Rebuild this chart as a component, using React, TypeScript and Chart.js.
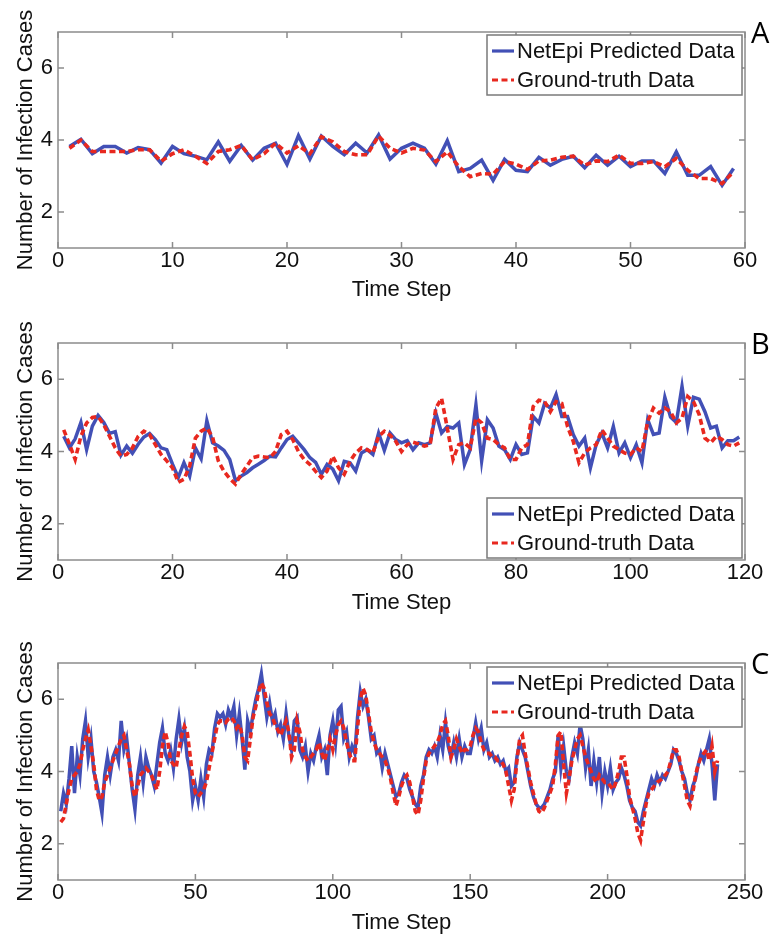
import React, { useEffect, useRef } from "react";
import { Chart, registerables } from "chart.js";
Chart.register(...registerables);

const SERIES_LABELS = ["NetEpi Predicted Data", "Ground-truth Data"];
const X_TITLE = "Time Step";
const Y_TITLE = "Number of Infection Cases";
const Y_TICKS = [2, 4, 6];
const PANEL_LETTERS = ["A", "B", "C"];

const A_PRED = [
  3.82, 4.02, 3.62, 3.82, 3.82, 3.64, 3.79, 3.73, 3.36, 3.82,
  3.62, 3.55, 3.45, 3.95, 3.41, 3.85, 3.44, 3.77, 3.91, 3.32,
  4.12, 3.47, 4.11, 3.82, 3.59, 3.91, 3.64, 4.14, 3.47, 3.77,
  3.91, 3.77, 3.33, 3.98, 3.12, 3.21, 3.44, 2.88, 3.46, 3.16,
  3.12, 3.52, 3.30, 3.46, 3.55, 3.23, 3.58, 3.30, 3.55, 3.26,
  3.42, 3.42, 3.07, 3.67, 3.02, 3.02, 3.26, 2.74, 3.21,
];
const A_TRUE = [
  3.77, 4.00, 3.68, 3.68, 3.68, 3.68, 3.73, 3.73, 3.41, 3.62,
  3.73, 3.55, 3.35, 3.68, 3.73, 3.85, 3.45, 3.62, 3.91, 3.64,
  3.84, 3.62, 4.09, 3.95, 3.68, 3.59, 3.59, 4.11, 3.77, 3.64,
  3.77, 3.72, 3.40, 3.67, 3.26, 2.98, 3.07, 3.05, 3.40, 3.33,
  3.18, 3.42, 3.44, 3.52, 3.55, 3.30, 3.42, 3.40, 3.58, 3.35,
  3.35, 3.40, 3.26, 3.49, 3.16, 2.93, 2.93, 2.79, 3.12,
];

const B_PRED = [
  4.42, 4.10, 4.35, 4.80, 4.05, 4.70, 5.00, 4.80, 4.50, 4.55,
  3.90, 4.15, 3.95, 4.20, 4.40, 4.50, 4.33, 4.10, 4.05, 3.65,
  3.28, 3.69, 3.32, 4.10, 3.80, 4.85, 4.24, 4.15, 4.03, 3.78,
  3.19, 3.32, 3.42, 3.55, 3.65, 3.75, 3.87, 3.85, 4.10, 4.33,
  4.42, 4.24, 4.05, 3.83, 3.70, 3.37, 3.64, 3.51, 3.19, 3.73,
  3.69, 3.46, 3.96, 4.05, 3.92, 4.51, 4.03, 4.51, 4.33, 4.24,
  4.30, 4.05, 4.24, 4.19, 4.24, 5.06, 4.51, 4.69, 4.65, 4.79,
  3.64, 4.05, 5.29, 3.74, 4.88, 4.65, 4.15, 4.05, 3.78, 4.19,
  3.92, 3.96, 4.97, 4.79, 5.33, 5.20, 5.58, 4.97, 4.97, 4.47,
  4.15, 4.37, 3.55, 4.19, 4.51, 4.10, 4.69, 3.96, 4.24, 3.83,
  4.19, 3.69, 4.88, 4.47, 4.51, 5.50, 4.95, 4.80, 5.80, 4.70,
  5.50, 5.45, 5.10, 4.65, 4.70, 4.10, 4.30, 4.30, 4.40,
];
const B_TRUE = [
  4.60, 4.20, 3.78, 4.42, 4.79, 4.94, 4.97, 4.74, 4.42, 4.10,
  3.87, 3.92, 4.10, 4.42, 4.56, 4.47, 4.19, 3.92, 3.74, 3.55,
  3.15, 3.23, 3.60, 4.37, 4.56, 4.65, 4.40, 3.74, 3.45, 3.25,
  3.10, 3.37, 3.60, 3.83, 3.87, 3.85, 3.83, 4.00, 4.47, 4.56,
  4.33, 4.00, 3.78, 3.64, 3.45, 3.28, 3.46, 3.87, 3.55, 3.37,
  3.73, 3.96, 4.10, 4.05, 3.96, 4.42, 4.56, 4.45, 4.28, 4.00,
  4.19, 4.26, 4.21, 4.15, 4.19, 5.20, 5.47, 4.65, 3.78, 4.19,
  4.24, 4.10, 4.92, 4.79, 4.37, 4.33, 4.19, 4.10, 3.78, 3.78,
  4.10, 4.19, 5.24, 5.42, 5.38, 5.10, 5.38, 5.33, 4.69, 4.28,
  3.69, 3.96, 4.10, 4.19, 4.60, 4.37, 4.15, 4.05, 3.96, 3.92,
  4.10, 4.00, 4.83, 5.20, 5.06, 5.20, 5.10, 4.79, 4.92, 5.52,
  5.38, 5.02, 4.37, 4.24, 4.42, 4.33, 4.19, 4.15, 4.24,
];

const C_PRED = [
  2.9, 3.4, 3.1, 3.8, 4.7, 3.4, 4.4, 3.9, 4.9, 5.4,
  4.4, 4.9, 4.0, 3.7, 3.3, 2.85, 3.9, 4.4, 3.9, 4.4,
  4.6, 4.3, 5.4, 4.6, 4.9, 4.2, 3.5, 2.95, 3.9, 4.4,
  3.7, 4.4, 4.1, 3.9, 3.6, 4.2, 4.8, 5.2, 4.5, 4.3,
  4.6, 4.1, 4.9, 5.45, 4.8, 5.2, 4.4, 4.0, 3.2, 3.6,
  3.2, 3.8, 3.3, 4.2, 4.6, 4.5, 5.2, 5.6, 5.5, 5.6,
  5.3, 5.7, 5.5, 5.8, 5.0, 5.6, 4.9, 4.05, 5.4, 5.1,
  5.6, 6.0, 6.3, 6.7, 6.1, 5.5, 5.9, 5.4, 5.6, 5.1,
  5.3, 4.9, 5.6, 5.0, 4.6, 5.4, 5.5, 4.6, 4.4, 4.7,
  4.0, 4.5, 4.3, 4.7, 5.0, 4.4, 4.6, 3.9, 5.0, 5.4,
  4.8, 5.7, 5.8, 4.9, 5.1, 4.4, 4.7, 4.5, 5.5, 6.2,
  5.8, 6.0, 5.5, 4.9, 5.0, 4.5, 4.6, 4.1, 4.5, 4.2,
  3.9, 3.6, 3.3, 3.4, 3.7, 3.9, 3.8, 3.5, 3.3, 3.1,
  3.0, 3.6, 3.9, 4.4, 4.6, 4.5, 4.7, 4.4, 5.0, 4.6,
  5.35, 4.7, 4.4, 4.8, 4.4, 4.9, 4.4, 4.7, 4.5, 4.5,
  4.9, 5.35, 4.9, 5.2, 4.6, 4.8, 4.4, 4.5, 4.3, 4.4,
  4.2, 4.3, 4.0, 4.1, 3.6, 3.7, 4.4, 4.8, 4.6, 4.4,
  4.0, 3.6, 3.3, 3.1, 3.0, 3.0, 3.1, 3.3, 3.5, 3.8,
  4.0, 5.0, 4.1, 4.7, 4.0, 3.8, 4.4, 4.8, 4.5, 5.3,
  4.9, 4.1, 4.6, 3.6, 4.3, 3.7, 4.4, 3.4, 4.0, 3.6,
  4.1, 3.5, 3.7, 3.8, 4.1, 3.9, 3.6, 3.2, 3.0, 2.9,
  2.6, 2.5, 2.9, 3.2, 3.5, 3.8, 3.6, 3.9, 3.7, 3.9,
  3.8, 4.0, 4.2, 4.6, 4.5, 4.3, 4.0, 3.8, 3.4, 3.2,
  3.6, 3.8, 4.2, 4.5, 4.3, 4.6, 4.9, 4.2, 3.2, 4.2,
];
const C_TRUE = [
  2.6, 2.7, 3.1, 3.5, 3.8, 3.9, 4.0, 4.2, 4.6, 4.9,
  5.15, 4.7, 4.2, 3.5, 3.2, 3.3, 3.7, 3.9, 4.1, 4.3,
  4.5, 4.7, 4.9, 5.0, 4.6, 4.2, 3.6, 3.3, 3.6, 3.9,
  4.0, 4.1, 4.0, 3.9, 3.7, 3.5, 4.0, 4.7, 5.1, 4.8,
  4.3, 4.2, 4.1, 4.6, 5.0, 5.25, 5.1, 4.5, 3.8, 3.4,
  3.3, 3.4, 3.5, 3.7, 4.1, 4.5, 4.9, 5.3, 5.4, 5.4,
  5.35, 5.45, 5.5, 5.4, 5.2, 5.3, 5.0, 4.4, 4.3, 4.9,
  5.5, 5.8, 6.2, 6.45, 6.3, 5.9, 5.6, 5.5, 5.3, 5.15,
  5.0, 5.2, 5.4, 5.1, 4.4, 4.6, 5.4, 5.1, 4.6, 4.4,
  4.3, 4.4, 4.5, 4.6, 4.8, 4.5, 4.3, 4.6, 4.9, 4.6,
  5.0, 5.3, 5.4, 5.2, 4.8, 4.5, 4.3, 4.3, 5.2, 6.0,
  6.3, 6.1, 5.6, 5.1, 4.8, 4.6, 4.5, 4.4, 4.3, 4.1,
  3.8, 3.4, 3.05, 3.3, 3.6, 3.8, 3.9, 3.7, 3.3, 2.9,
  2.8, 3.2, 3.8, 4.3, 4.5, 4.6, 4.7, 4.8, 5.0, 5.3,
  5.4, 5.0, 4.4, 4.6, 4.9, 4.7, 4.5, 4.6, 4.6, 4.7,
  5.0, 5.2, 5.1, 4.8, 4.6, 4.5, 4.5, 4.4, 4.4, 4.3,
  4.3, 4.2, 4.0, 3.6, 3.2, 3.5, 4.3, 4.9, 5.0, 4.5,
  4.1, 3.7, 3.4, 3.1, 2.9, 2.85, 3.0, 3.2, 3.4, 3.6,
  4.2, 5.0, 5.1, 4.2, 3.4, 3.8, 4.3, 4.6, 4.9, 5.0,
  4.7, 4.4, 4.2, 4.0, 3.8, 3.7, 3.9, 3.8, 3.7, 3.7,
  3.6, 3.5, 3.7, 4.0, 4.4, 4.4, 3.9, 3.3, 3.0, 2.7,
  2.3, 2.1, 2.6, 3.1, 3.4, 3.5, 3.6, 3.7, 3.75, 3.8,
  3.9, 4.0, 4.3, 4.6, 4.6, 4.4, 4.0, 3.6, 3.2, 3.05,
  3.4, 3.9, 4.2, 4.4, 4.5, 4.6, 4.3, 4.7, 4.0, 4.3,
];

const FONT = '"Liberation Sans", Arial, Helvetica, sans-serif';
const BLUE = "#4250b6";
const RED = "#e8281f";
const AXIS_GRAY = "#8c8c8c";
const DASH = [6, 3.5];

type PanelCfg = {
  top: number;
  height: number;
  padTop: number;
  plotBottom: number;
  xMax: number;
  xStep: number;
  pred: number[];
  truth: number[];
  legendPos: "top" | "bottom";
  legendDy: number;
  letter: string;
  titlePadBottom: number;
};

const boxPlugin = {
  id: "matlabBox",
  afterDraw(chart: any, _args: any, opts: any) {
    const { ctx, chartArea: ca, scales } = chart;
    ctx.save();
    ctx.strokeStyle = AXIS_GRAY;
    ctx.lineWidth = 1.5;
    ctx.setLineDash([]);
    ctx.strokeRect(ca.left, ca.top, ca.right - ca.left, ca.bottom - ca.top);
    const L = 6;
    ctx.beginPath();
    scales.x.ticks.forEach((t: any) => {
      const px = scales.x.getPixelForValue(t.value);
      ctx.moveTo(px, ca.bottom);
      ctx.lineTo(px, ca.bottom - L);
      ctx.moveTo(px, ca.top);
      ctx.lineTo(px, ca.top + L);
    });
    scales.y.ticks.forEach((t: any) => {
      const py = scales.y.getPixelForValue(t.value);
      ctx.moveTo(ca.left, py);
      ctx.lineTo(ca.left + L, py);
      ctx.moveTo(ca.right, py);
      ctx.lineTo(ca.right - L, py);
    });
    ctx.stroke();

    const bw = 255;
    const bh = 60;
    const bx = ca.right - 3 - bw;
    const by =
      opts.legendPos === "top" ? ca.top + opts.legendDy : ca.bottom - 2 - bh;
    ctx.fillStyle = "#ffffff";
    ctx.fillRect(bx, by, bw, bh);
    ctx.strokeStyle = "#7a7a7a";
    ctx.lineWidth = 1.5;
    ctx.strokeRect(bx, by, bw, bh);
    const rows = [by + 16, by + 45];
    const colors = [BLUE, RED];
    for (let i = 0; i < 2; i++) {
      ctx.beginPath();
      ctx.strokeStyle = colors[i];
      ctx.lineWidth = 3.2;
      ctx.setLineDash(i === 1 ? DASH : []);
      ctx.moveTo(bx + 5, rows[i]);
      ctx.lineTo(bx + 27, rows[i]);
      ctx.stroke();
      ctx.setLineDash([]);
      ctx.fillStyle = "#111111";
      ctx.font = `22px ${FONT}`;
      ctx.textBaseline = "middle";
      ctx.textAlign = "left";
      ctx.fillText(SERIES_LABELS[i], bx + 30, rows[i] + 1);
    }

    ctx.fillStyle = "#000000";
    ctx.font = `29px "Open Sans", ${FONT}`;
    ctx.textBaseline = "alphabetic";
    ctx.textAlign = "left";
    ctx.fillText(opts.letter, 751, ca.top + 11);
    ctx.restore();
  },
};

function Panel({ cfg }: { cfg: PanelCfg }) {
  const ref = useRef<HTMLCanvasElement | null>(null);
  useEffect(() => {
    if (!ref.current) return;
    const xh = cfg.height - cfg.plotBottom;
    const chart = new Chart(ref.current, {
      type: "line",
      data: {
        datasets: [
          {
            label: SERIES_LABELS[1],
            data: cfg.truth.map((v, i) => ({ x: i + 1, y: v })),
            borderColor: RED,
            borderWidth: 3.6,
            borderDash: DASH,
            pointRadius: 0,
            tension: 0,
            fill: false,
            order: 0,
          },
          {
            label: SERIES_LABELS[0],
            data: cfg.pred.map((v, i) => ({ x: i + 1, y: v })),
            borderColor: BLUE,
            borderWidth: 3.5,
            pointRadius: 0,
            tension: 0,
            fill: false,
            order: 1,
          },
        ],
      },
      options: {
        responsive: false,
        animation: false,
        layout: { padding: { top: cfg.padTop, right: 25, left: 0, bottom: 0 } },
        plugins: {
          legend: { display: false },
          tooltip: { enabled: false },
          matlabBox: {
            legendPos: cfg.legendPos,
            legendDy: cfg.legendDy,
            letter: cfg.letter,
          },
        } as any,
        scales: {
          x: {
            type: "linear",
            min: 0,
            max: cfg.xMax,
            grid: { display: false, drawTicks: false },
            border: { display: false },
            ticks: {
              stepSize: cfg.xStep,
              padding: 0,
              color: "#111111",
              font: { family: FONT, size: 22 },
              maxRotation: 0,
            },
            afterFit: (s: any) => {
              s.height = xh;
            },
            title: {
              display: true,
              text: X_TITLE,
              color: "#111111",
              font: { family: FONT, size: 22 },
              padding: { top: 0, bottom: cfg.titlePadBottom },
            },
          },
          y: {
            type: "linear",
            min: 1,
            max: 7,
            grid: { display: false, drawTicks: false },
            border: { display: false },
            afterBuildTicks: (s: any) => {
              s.ticks = Y_TICKS.map((v) => ({ value: v }));
            },
            afterFit: (s: any) => {
              s.width = 58;
            },
            ticks: {
              padding: 5,
              color: "#111111",
              font: { family: FONT, size: 22 },
            },
            title: {
              display: true,
              text: Y_TITLE,
              color: "#111111",
              font: { family: FONT, size: 22 },
              padding: { top: 13, bottom: 0 },
            },
          },
        },
      } as any,
      plugins: [boxPlugin as any],
    });
    return () => chart.destroy();
  }, []);
  return (
    <canvas
      ref={ref}
      width={770}
      height={cfg.height}
      style={{ position: "absolute", left: 0, top: cfg.top, display: "block" }}
    />
  );
}

const PANELS: PanelCfg[] = [
  {
    top: 0, height: 305, padTop: 32, plotBottom: 248, xMax: 60, xStep: 10,
    pred: A_PRED, truth: A_TRUE, legendPos: "top", legendDy: 3,
    letter: PANEL_LETTERS[0], titlePadBottom: 2,
  },
  {
    top: 305, height: 313, padTop: 38, plotBottom: 255, xMax: 120, xStep: 20,
    pred: B_PRED, truth: B_TRUE, legendPos: "bottom", legendDy: 3,
    letter: PANEL_LETTERS[1], titlePadBottom: 2,
  },
  {
    top: 618, height: 318, padTop: 45, plotBottom: 262, xMax: 250, xStep: 50,
    pred: C_PRED, truth: C_TRUE, legendPos: "top", legendDy: 4,
    letter: PANEL_LETTERS[2], titlePadBottom: 0,
  },
];

export default function App() {
  return (
    <div
      style={{
        position: "absolute",
        left: 0,
        top: 0,
        width: 770,
        height: 936,
        overflow: "hidden",
        background: "#ffffff",
      }}
    >
      {PANELS.map((p, i) => (
        <Panel key={i} cfg={p} />
      ))}
    </div>
  );
}
